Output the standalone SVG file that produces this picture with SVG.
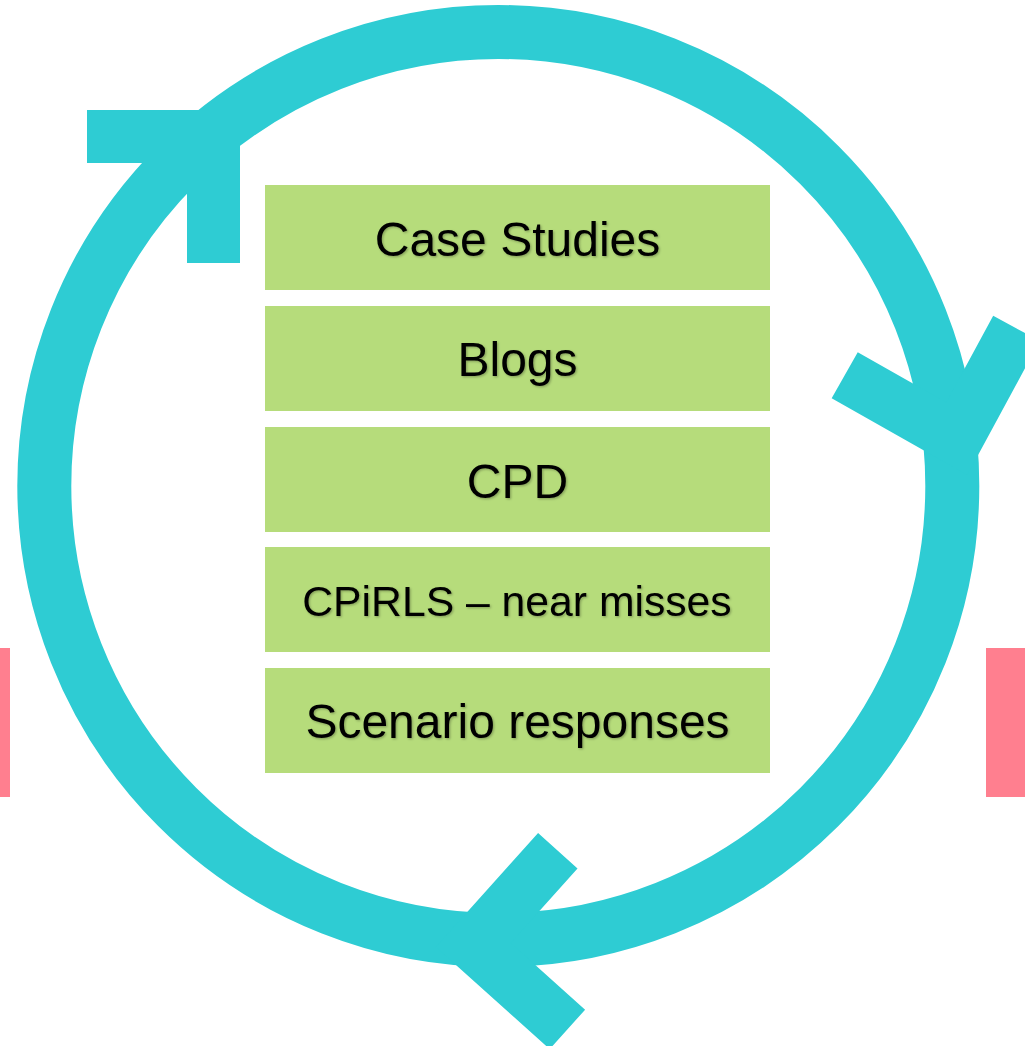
<svg xmlns="http://www.w3.org/2000/svg" width="1025" height="1046" viewBox="0 0 1025 1046">
  <style>
    .ring { fill: none; stroke: #2ECCD3; stroke-width: 54; }
    .chev { fill: none; stroke: #2ECCD3; stroke-width: 53; stroke-linejoin: miter; stroke-miterlimit: 4; stroke-linecap: butt; }
    .box { fill: #B6DC7B; }
    .side { fill: #FF7F8F; }
    .lbl { font-family: "Liberation Sans", Arial, sans-serif; fill: #000; text-anchor: middle; filter: url(#soft); }
  </style>
  <defs>
    <filter id="soft" x="-10%" y="-30%" width="120%" height="160%">
      <feDropShadow dx="1.2" dy="1.2" stdDeviation="0.9" flood-color="#000" flood-opacity="0.28"/>
    </filter>
  </defs>

  <rect width="1025" height="1046" fill="#FFFFFF"/>

  <!-- side bars -->
  <rect class="side" x="0" y="648" width="10" height="149"/>
  <rect class="side" x="986" y="648" width="39" height="149"/>

  <!-- cycle ring with chevrons -->
  <g id="connectors">
    <circle class="ring" cx="498.3" cy="486" r="454"/>
    <polyline class="chev" points="87,136.5 213.5,136.5 213.5,263"/>
    <polyline class="chev" points="844.7,375.3 956.8,438.7 1016.5,328.4"/>
    <polyline class="chev" points="557.8,850.8 473.3,944.9 567.4,1029.4"/>
  </g>

  <g id="node-case-studies">
    <rect class="box" x="265" y="185" width="505" height="105"/>
    <text class="lbl" x="517.5" y="256" font-size="48">Case Studies</text>
  </g>
  <g id="node-blogs">
    <rect class="box" x="265" y="306" width="505" height="105"/>
    <text class="lbl" x="517.5" y="376" font-size="48">Blogs</text>
  </g>
  <g id="node-cpd">
    <rect class="box" x="265" y="427" width="505" height="105"/>
    <text class="lbl" x="517.5" y="497.5" font-size="48">CPD</text>
  </g>
  <g id="node-cpirls">
    <rect class="box" x="265" y="547" width="505" height="105"/>
    <text class="lbl" x="517" y="616" font-size="42.7">CPiRLS – near misses</text>
  </g>
  <g id="node-scenario">
    <rect class="box" x="265" y="668" width="505" height="105"/>
    <text class="lbl" x="517.5" y="738" font-size="48">Scenario responses</text>
  </g>
</svg>
